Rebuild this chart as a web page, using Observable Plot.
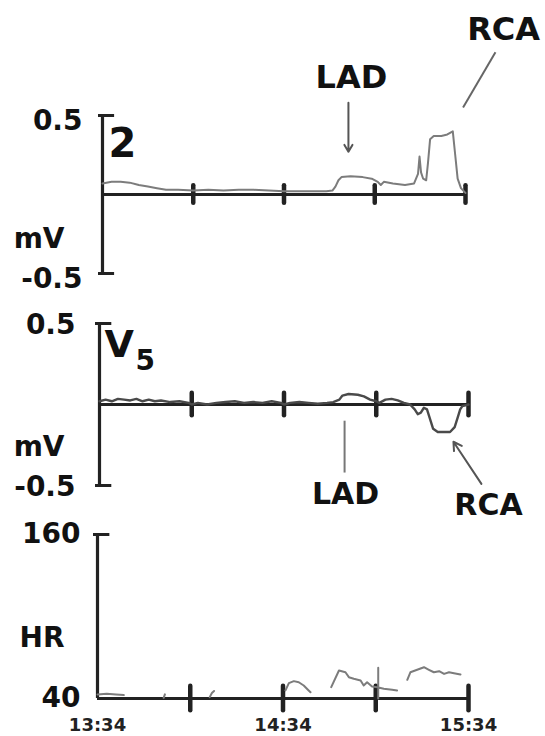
<!DOCTYPE html>
<html>
<head>
<meta charset="utf-8">
<script src="https://cdn.jsdelivr.net/npm/d3@7"></script>
<script src="https://cdn.jsdelivr.net/npm/@observablehq/plot@0.6"></script>
<style>
  html, body { margin: 0; padding: 0; background: white; }
  #chart svg { display: block; }
</style>
</head>
<body>
<div id="chart"></div>
<script>
// ---- data (minutes after 13:34) ----
const xTickTimes = [30, 60, 90, 120];
const xLabelTimes = [0, 60, 120];
const xLabels = ["13:34", "14:34", "15:34"];

const ecgTicks = [-0.5, 0.5];
const ecgTickLabels = ["-0.5", "0.5"];
const hrTicks = [40, 160];
const hrTickLabels = ["40", "160"];

const lead2Time = [0,3,6,9,12,15,18,21,25,30,35,40,45,50,55,60,65,70,74,76,77,78,79,82,86,89,91,92,93,96,100,103,104.3,104.8,105.3,106,107,107.6,108.3,109.5,112,114,115.8,116.6,117.4,118.5,119.5,120];
const lead2Value = [0.07,0.08,0.08,0.075,0.06,0.05,0.04,0.03,0.03,0.025,0.03,0.025,0.03,0.03,0.025,0.02,0.02,0.02,0.02,0.025,0.05,0.09,0.11,0.115,0.11,0.1,0.08,0.06,0.08,0.07,0.06,0.07,0.13,0.24,0.14,0.1,0.09,0.2,0.35,0.37,0.37,0.38,0.40,0.25,0.1,0.04,0.02,0.01];

const v5Time = [0,2,4,6,8,10,12,14,16,18,20,23,26,29,30,32,35,38,41,44,47,50,53,56,59,60,62,65,68,71,74,76,78,79,81,84,86,88,90,91,93,95,97,99,101,102.5,103.5,104.5,105.5,106.5,107.5,108.5,110,112,114,115.5,116.5,117.3,118,120];
const v5Value = [0.02,0.03,0.02,0.035,0.03,0.025,0.035,0.02,0.03,0.02,0.025,0.015,0.02,0.01,0,0.01,0,0.01,0.015,0.02,0.01,0.015,0.01,0.02,0.01,0,0.01,0.015,0.01,0.005,0.01,0.015,0.03,0.055,0.065,0.06,0.05,0.03,0.02,0.01,0.03,0.035,0.025,0.01,0,-0.03,-0.06,-0.05,-0.02,-0.03,-0.09,-0.15,-0.17,-0.17,-0.17,-0.14,-0.08,-0.03,-0.01,0];

const hrTime = [0,3,6,8.5,NaN, 21.4,21.8,NaN, 36.3,37,37.7,NaN, 60.8,61.9,63.5,65.1,66.7,68.3,68.9,NaN, 75.6,78.1,80.2,81.3,82.9,85.1,86.1,87.2,88.8,90.5,92.6,95.3,96.9,NaN, 90.8,90.8,NaN, 100.2,101.2,103.4,105.6,107.2,108.8,110.5,112.1,113.7,115.3,117.4];
const hrValue = [43,43.5,43,42.5,NaN, 40.5,43,NaN, 41,44,45.5,NaN, 45.9,51.2,52.7,51.9,49.5,45.9,44.6,NaN, 48.3,60.5,59.2,55.6,54.4,53.2,49.5,51.9,48.8,48.3,47.1,46.4,45.9,NaN, 62.5,40,NaN, 53.7,59.2,61,62.9,61,59.2,60,58,59.2,58.5,57.6];

// annotations (time in minutes, value in panel units)
const lead2Notes = [{label: "LAD", t: 82.3, v: 0.74}, {label: "RCA", t: 132.6, v: 1.04}];
const lead2Pointers = [{t1: 81.3, v1: 0.58, t2: 81.3, v2: 0.27, head: true}, {t1: 129.9, v1: 0.9, t2: 119.2, v2: 0.55, head: false}];
const v5Notes = [{label: "LAD", t: 80, v: -0.556}, {label: "RCA", t: 126.5, v: -0.623}];
const v5Pointers = [{t1: 79.7, v1: -0.1, t2: 79.7, v2: -0.42, head: false}, {t1: 124.2, v1: -0.49, t2: 115.1, v2: -0.23, head: true}];

// ---- styling ----
const FONT = "DejaVu Sans";
const AX = "#222";
const TR = "#7c7c7c";

function frameMarks({yBase, caps, tickHalf, ticks, tickLabels, padding, dyLab}) {
  return [
    Plot.ruleX([0], {stroke: AX, strokeWidth: 3.2}),
    Plot.ruleY([yBase], {stroke: AX, strokeWidth: 3.2}),
    Plot.ruleY(caps, {y: d => d, x1: 0, x2: 4, insetLeft: -4, stroke: AX, strokeWidth: 3}),
    Plot.ruleX(xTickTimes, {x: d => d, y1: yBase - tickHalf, y2: yBase + tickHalf, stroke: AX, strokeWidth: 4.5, strokeLinecap: "round"}),
    Plot.axisY(ticks, {tickSize: 0, tickPadding: padding, label: null, fontSize: 28, fontWeight: "bold", fontFamily: FONT, fill: "#111", dy: dyLab,
      tickFormat: d => tickLabels[ticks.indexOf(d)]})
  ];
}

const common = {width: 545, style: {fontFamily: FONT, background: "white", overflow: "visible"}};

// Panel 1: lead 2
const p1 = Plot.plot({
  ...common, height: 300,
  marginLeft: 102, marginRight: 80, marginTop: 115, marginBottom: 27,
  x: {domain: [0, 120], axis: null},
  y: {domain: [-0.5, 0.5], axis: null},
  marks: [
    ...frameMarks({yBase: 0, caps: ecgTicks, tickHalf: 0.055, ticks: ecgTicks, tickLabels: ecgTickLabels, padding: 20, dyLab: 6}),
    Plot.line(lead2Value, {x: lead2Time, y: lead2Value, stroke: TR, strokeWidth: 2, strokeLinejoin: "round"}),
    Plot.text(["mV"], {x: 0, y: -0.285, dx: -38, textAnchor: "end", fontSize: 28, fontWeight: "bold", fill: "#111"}),
    Plot.text(["2"], {x: 0, y: 0.316, dx: 6, textAnchor: "start", fontSize: 40, fontWeight: "bold", fill: "#111"}),
    Plot.text(lead2Notes, {x: "t", y: "v", text: "label", fontSize: 32, fontWeight: "bold", fill: "#111"}),
    Plot.arrow(lead2Pointers.filter(d => d.head), {x1: "t1", y1: "v1", x2: "t2", y2: "v2", stroke: "#555", strokeWidth: 2, headLength: 6}),
    Plot.link(lead2Pointers.filter(d => !d.head), {x1: "t1", y1: "v1", x2: "t2", y2: "v2", stroke: "#666", strokeWidth: 2})
  ]
});

// Panel 2: V5
const p2 = Plot.plot({
  ...common, height: 220,
  marginLeft: 99, marginRight: 77, marginTop: 23, marginBottom: 35,
  x: {domain: [0, 120], axis: null},
  y: {domain: [-0.5, 0.5], axis: null},
  marks: [
    ...frameMarks({yBase: 0, caps: ecgTicks, tickHalf: 0.07, ticks: ecgTicks, tickLabels: ecgTickLabels, padding: 24, dyLab: 2}),
    Plot.line(v5Value, {x: v5Time, y: v5Value, stroke: "#4a4a4a", strokeWidth: 2.4, strokeLinejoin: "round"}),
    Plot.text(["mV"], {x: 0, y: -0.265, dx: -35, textAnchor: "end", fontSize: 28, fontWeight: "bold", fill: "#111"}),
    Plot.text(["V"], {x: 0, y: 0.37, dx: 5, textAnchor: "start", fontSize: 38, fontWeight: "bold", fill: "#111"}),
    Plot.text(["5"], {x: 0, y: 0.27, dx: 36, textAnchor: "start", fontSize: 28, fontWeight: "bold", fill: "#111"}),
    Plot.text(v5Notes, {x: "t", y: "v", text: "label", fontSize: 30, fontWeight: "bold", fill: "#111"}),
    Plot.arrow(v5Pointers.filter(d => d.head), {x1: "t1", y1: "v1", x2: "t2", y2: "v2", stroke: "#555", strokeWidth: 2, headLength: 7}),
    Plot.link(v5Pointers.filter(d => !d.head), {x1: "t1", y1: "v1", x2: "t2", y2: "v2", stroke: "#777", strokeWidth: 2})
  ]
});

// Panel 3: HR
const p3 = Plot.plot({
  ...common, height: 216,
  marginLeft: 97, marginRight: 77, marginTop: 14, marginBottom: 38,
  x: {domain: [0, 120], axis: null},
  y: {domain: [40, 160], axis: null},
  marks: [
    ...frameMarks({yBase: 40, caps: [160], tickHalf: 9, ticks: hrTicks, tickLabels: hrTickLabels, padding: 17, dyLab: 0}),
    Plot.line(hrValue, {x: hrTime, y: hrValue, stroke: TR, strokeWidth: 2, strokeLinejoin: "round"}),
    Plot.text(["HR"], {x: 0, y: 84, dx: -33, textAnchor: "end", fontSize: 28, fontWeight: "bold", fill: "#111"}),
    Plot.axisX(xLabelTimes, {anchor: "bottom", tickSize: 0, tickPadding: 20, label: null, fontSize: 18, fontWeight: "bold", fontFamily: FONT, fill: "#222",
      tickFormat: d => xLabels[xLabelTimes.indexOf(d)]})
  ]
});

const el = document.getElementById("chart");
el.append(p1, p2, p3);
</script>
</body>
</html>
